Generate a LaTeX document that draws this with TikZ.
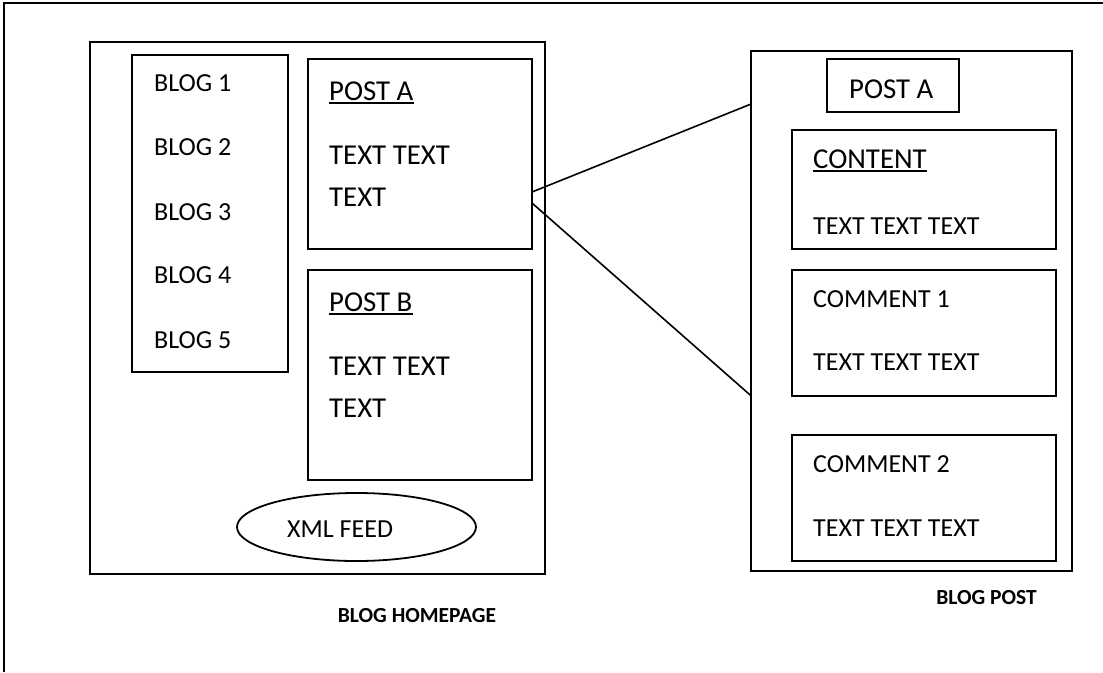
\documentclass[tikz,border=0pt]{standalone}
\usepackage{fontspec}
\setmainfont{Carlito}
\usetikzlibrary{shapes.geometric,calc}
\begin{document}
\begin{tikzpicture}[x=1pt,y=-1pt,
  box/.style={draw, line width=2pt, anchor=north west, inner sep=0pt, outer sep=0pt},
  txt/.style={anchor=base west, inner sep=0pt, font=\fontsize{26}{30}\selectfont},
  bigtxt/.style={anchor=base west, inner sep=0pt, font=\fontsize{28.8}{33}\selectfont},
  caption/.style={anchor=base, inner sep=0pt, font=\fontsize{21.5}{25}\selectfont\bfseries},
  link/.style={line width=1.6pt},
  uline/.style={line width=1.6pt}]
\useasboundingbox (0,0) rectangle (1103,672);

% page frame (top and left edges)
\draw[line width=2.2pt] (4,672) -- (4,3) -- (1103,3);

% ---- blog homepage ----
\node[box, minimum width=455pt, minimum height=532pt] (home) at (90,42) {};
\node[box, minimum width=156pt, minimum height=317pt] (bloglist) at (132,55) {};
\node[box, minimum width=224pt, minimum height=190pt] (postA) at (308,59) {};
\node[box, minimum width=224pt, minimum height=210pt] (postB) at (308,270) {};
\node[draw, ellipse, line width=1.8pt, inner sep=0pt, minimum width=239pt, minimum height=68pt] (feed) at (356.5,527) {};

\node[txt] (b1) at (154,91) {BLOG 1};
\node[txt] (b2) at (154,155) {BLOG 2};
\node[txt] (b3) at (154,220) {BLOG 3};
\node[txt] (b4) at (154,283) {BLOG 4};
\node[txt] (b5) at (154,348) {BLOG 5};

\node[bigtxt] (paT) at (329,100) {POST A};
\node[bigtxt] (pa1) at (329,164) {TEXT TEXT};
\node[bigtxt] (pa2) at (329,206) {TEXT};

\node[bigtxt] (pbT) at (329,311) {POST B};
\node[bigtxt] (pb1) at (329,375) {TEXT TEXT};
\node[bigtxt] (pb2) at (329,417) {TEXT};

\node[txt] (feedT) at (287,537) {XML FEED};

\node[caption] (homeCap) at (417,622) {BLOG HOMEPAGE};

% ---- blog post page ----
\node[box, minimum width=321pt, minimum height=520pt] (postpage) at (751,51) {};
\node[box, minimum width=132pt, minimum height=53pt] (titlebox) at (827,59) {};
\node[box, minimum width=264pt, minimum height=119pt] (content) at (792,130) {};
\node[box, minimum width=264pt, minimum height=126pt] (comment1) at (792,270) {};
\node[box, minimum width=264pt, minimum height=126pt] (comment2) at (792,435) {};

\node[bigtxt] (titleT) at (849,98) {POST A};
\node[bigtxt] (ctT) at (813,168) {CONTENT};
\node[txt] (ct1) at (813,234) {TEXT TEXT TEXT};
\node[txt] (c1T) at (813,307) {COMMENT 1};
\node[txt] (c11) at (813,370) {TEXT TEXT TEXT};
\node[txt] (c2T) at (813,472) {COMMENT 2};
\node[txt] (c21) at (813,536) {TEXT TEXT TEXT};

\node[caption] (postCap) at (986.5,604) {BLOG POST};

% underlined headings
\foreach \n in {paT,pbT,ctT}
  \draw[uline] ($(\n.base west)+(0,2.8)$) -- ($(\n.base east)+(0,2.8)$);

% connectors from the post preview to the post page
\draw[link] ($(postA.north east)!0.70!(postA.south east)$) -- ($(postpage.north west)!0.102!(postpage.south west)$);
\draw[link] ($(postA.north east)!0.758!(postA.south east)$) -- ($(postpage.north west)!0.663!(postpage.south west)$);
\end{tikzpicture}
\end{document}
